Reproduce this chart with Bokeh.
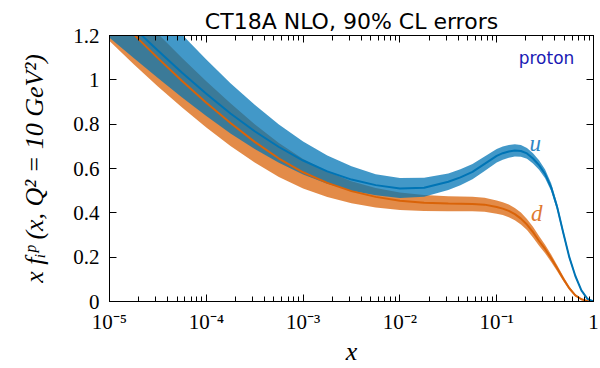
from bokeh.plotting import figure
from bokeh.models import (LogAxis, LinearAxis, FixedTicker, LogTicker, CustomJSTickFormatter,
                          Range1d, Label, ColumnDataSource)
from bokeh.embed import file_html
from bokeh.resources import INLINE

# ---------------- data ----------------
x = [1e-5, 1.778e-5, 3.162e-5, 5.623e-5, 1e-4, 1.778e-4, 3.162e-4, 5.623e-4,
     1e-3, 1.778e-3, 3.162e-3, 5.623e-3, 1e-2, 1.778e-2, 3.162e-2, 4.217e-2,
     5.623e-2, 7.499e-2, 0.1, 0.1155, 0.1334, 0.1540, 0.1778, 0.2054,
     0.2371, 0.2738, 0.3162, 0.3652, 0.4217, 0.4870, 0.5623, 0.6494,
     0.7499, 0.8660, 1.0]

u_central = [1.34, 1.235, 1.132, 1.032, 0.937, 0.848, 0.768, 0.697,
             0.636, 0.587, 0.550, 0.525, 0.510, 0.513, 0.540, 0.560,
             0.585, 0.621, 0.657, 0.669, 0.677, 0.681, 0.679, 0.668,
             0.645, 0.615, 0.575, 0.515, 0.425, 0.31, 0.20, 0.115,
             0.05, 0.012, 0.0]
u_high = [1.56, 1.44, 1.322, 1.204, 1.092, 0.985, 0.888, 0.799,
          0.722, 0.659, 0.610, 0.574, 0.557, 0.558, 0.577, 0.597,
          0.620, 0.654, 0.688, 0.699, 0.706, 0.709, 0.706, 0.693,
          0.669, 0.637, 0.595, 0.533, 0.441, 0.323, 0.21, 0.122,
          0.054, 0.014, 0.0]
u_low = [1.19, 1.098, 1.008, 0.92, 0.837, 0.758, 0.688, 0.626,
         0.573, 0.531, 0.50, 0.479, 0.467, 0.473, 0.503, 0.524,
         0.551, 0.589, 0.627, 0.640, 0.649, 0.654, 0.653, 0.644,
         0.622, 0.594, 0.556, 0.498, 0.41, 0.298, 0.191, 0.109,
         0.046, 0.01, 0.0]

d_central = [1.315, 1.205, 1.098, 0.995, 0.897, 0.805, 0.720, 0.645,
             0.583, 0.535, 0.498, 0.472, 0.455, 0.446, 0.442, 0.441,
             0.440, 0.437, 0.426, 0.419, 0.409, 0.394, 0.374, 0.347,
             0.313, 0.273, 0.237, 0.195, 0.150, 0.103, 0.06, 0.028,
             0.01, 0.002, 0.0]
d_high = [1.435, 1.32, 1.208, 1.099, 0.994, 0.894, 0.80, 0.715,
          0.643, 0.587, 0.543, 0.512, 0.492, 0.481, 0.475, 0.474,
          0.472, 0.468, 0.456, 0.448, 0.438, 0.422, 0.401, 0.372,
          0.337, 0.295, 0.256, 0.212, 0.164, 0.114, 0.068, 0.033,
          0.013, 0.003, 0.0]
d_low = [1.175, 1.07, 0.97, 0.875, 0.785, 0.702, 0.627, 0.562,
         0.51, 0.471, 0.443, 0.424, 0.413, 0.408, 0.407, 0.407,
         0.407, 0.405, 0.396, 0.390, 0.380, 0.366, 0.347, 0.322,
         0.289, 0.251, 0.218, 0.178, 0.136, 0.092, 0.052, 0.023,
         0.007, 0.001, 0.0]

x_ticks = [1e-5, 1e-4, 1e-3, 1e-2, 1e-1, 1.0]
x_tick_labels = ["10\u207b\u2075", "10\u207b\u2074", "10\u207b\u00b3", "10\u207b\u00b2", "10\u207b\u00b9", "1"]
y_ticks = [0, 0.2, 0.4, 0.6, 0.8, 1.0, 1.2]
y_tick_labels = ["0", "0.2", "0.4", "0.6", "0.8", "1", "1.2"]

title_text = "CT18A NLO, 90% CL errors"
y_label = "x f\u1d62\u1d56 (x, Q\u00b2 = 10 GeV\u00b2)"
x_label = "x"

BLUE = "#0074b5"
ORANGE = "#d96308"
SERIF = "Liberation Serif"

src = ColumnDataSource(dict(x=x, uc=u_central, uh=u_high, ul=u_low,
                            dc=d_central, dh=d_high, dl=d_low))

p = figure(width=600, height=368, x_axis_type="log",
           x_range=Range1d(1e-5, 1.0), y_range=Range1d(0, 1.2),
           output_backend="svg", toolbar_location=None,
           min_border_left=109, min_border_right=7, min_border_top=35, min_border_bottom=60)

p.title.text = title_text
p.title.align = "center"
p.title.text_font = "DejaVu Sans"
p.title.text_font_size = "22px"
p.title.text_font_style = "normal"
p.title.text_color = "black"
p.title.standoff = 3

p.grid.visible = False
p.outline_line_color = "black"
p.outline_line_width = 1

# bands and lines
p.varea(x="x", y1="dl", y2="dh", source=src, fill_color=ORANGE, fill_alpha=0.74)
p.varea(x="x", y1="ul", y2="uh", source=src, fill_color=BLUE, fill_alpha=0.74)
p.line(x="x", y="dc", source=src, line_color=ORANGE, line_width=2)
p.line(x="x", y="uc", source=src, line_color=BLUE, line_width=2)

# axes
xfmt = CustomJSTickFormatter(args=dict(tvals=x_ticks, tlabels=x_tick_labels), code="""
    let best = 0, bd = 1e9;
    for (let i = 0; i < tvals.length; i++) {
        const dd = Math.abs(Math.log10(tick) - Math.log10(tvals[i]));
        if (dd < bd) { bd = dd; best = i; }
    }
    return tlabels[best];
""")
yfmt = CustomJSTickFormatter(args=dict(tvals=y_ticks, tlabels=y_tick_labels), code="""
    let best = 0, bd = 1e9;
    for (let i = 0; i < tvals.length; i++) {
        const dd = Math.abs(tick - tvals[i]);
        if (dd < bd) { bd = dd; best = i; }
    }
    return tlabels[best];
""")
blankfmt = CustomJSTickFormatter(code="return '';")

def style_axis(ax):
    ax.major_tick_in = 7
    ax.major_tick_out = 0
    ax.minor_tick_in = 5
    ax.minor_tick_out = 0
    ax.axis_line_color = "black"
    ax.major_tick_line_color = "black"
    ax.minor_tick_line_color = "black"
    ax.major_label_text_font = SERIF
    ax.major_label_text_font_size = "21px"
    ax.major_label_text_color = "black"
    ax.axis_label_text_font = SERIF
    ax.axis_label_text_font_size = "26px"
    ax.axis_label_text_font_style = "italic"
    ax.axis_label_text_color = "black"

xa = p.xaxis[0]
xa.ticker = LogTicker(num_minor_ticks=10)
xa.formatter = xfmt
style_axis(xa)
xa.axis_label = x_label
xa.major_label_standoff = 8
xa.axis_label_standoff = 0

ya = p.yaxis[0]
ya.ticker = FixedTicker(ticks=y_ticks)
ya.formatter = yfmt
style_axis(ya)
ya.axis_label = y_label
ya.major_label_standoff = 10
ya.axis_label_standoff = 21

top = LogAxis(ticker=LogTicker(num_minor_ticks=10), formatter=blankfmt)
style_axis(top)
top.major_label_standoff = 0
p.add_layout(top, "above")

right = LinearAxis(ticker=FixedTicker(ticks=y_ticks), formatter=blankfmt)
style_axis(right)
right.major_label_standoff = 0
p.add_layout(right, "right")

# labels
p.add_layout(Label(x=0.327, y=1.10, text="proton", text_font="DejaVu Sans", text_font_size="17px",
                   text_color="#1a1ab4", text_align="center", text_baseline="middle"))
p.add_layout(Label(x=0.25, y=0.715, text="u", text_font=SERIF, text_font_size="23px",
                   text_font_style="italic", text_color="#2f86c4", text_align="center",
                   text_baseline="middle"))
p.add_layout(Label(x=0.26, y=0.395, text="d", text_font=SERIF, text_font_size="23px",
                   text_font_style="italic", text_color="#e07a30", text_align="center",
                   text_baseline="middle"))

open("out.html", "w").write(file_html(p, INLINE))
